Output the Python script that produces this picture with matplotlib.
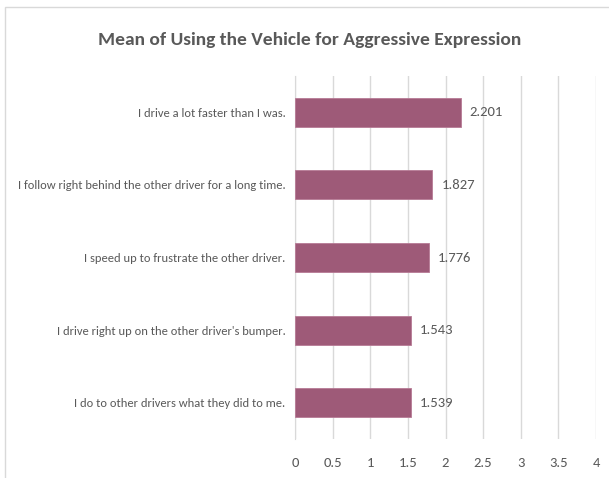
import matplotlib.pyplot as plt
from matplotlib.patches import Rectangle

items = [
    "I drive a lot faster than I was.",
    "I follow right behind the other driver for a long time.",
    "I speed up to frustrate the other driver.",
    "I drive right up on the other driver's bumper.",
    "I do to other drivers what they did to me.",
]
means = [2.201, 1.827, 1.776, 1.543, 1.539]
x_ticks = [0, 0.5, 1, 1.5, 2, 2.5, 3, 3.5, 4]
x_tick_labels = ["0", "0.5", "1", "1.5", "2", "2.5", "3", "3.5", "4"]

plt.rcParams["font.family"] = ["Carlito", "DejaVu Sans"]
text_grey = "#595959"
bar_colour = "#9E5A78"

fig = plt.figure(figsize=(6.09, 4.78), dpi=100)
# light frame around the chart area
fig.patches.append(Rectangle((5 / 609, -0.05), 1.1, 1 - 7 / 478 + 0.05,
                             transform=fig.transFigure, fill=False,
                             edgecolor="#D9D9D9", linewidth=1.0))

ax = fig.add_axes([295 / 609, 1 - 439 / 478, 301 / 609, 363 / 478])
pos = list(range(len(items)))
ax.barh(pos, means, height=0.4, color=bar_colour, edgecolor="#B77A95", linewidth=0.6, zorder=3)
for y, v in zip(pos, means):
    ax.text(v + 0.12, y, f"{v:.3f}", va="center", ha="left", fontsize=10.5, color=text_grey)

ax.set_xlim(0, 4)
ax.set_ylim(len(items) - 0.5, -0.5)
ax.set_xticks(x_ticks)
ax.set_xticklabels(x_tick_labels)
ax.set_yticks(pos)
ax.set_yticklabels(items)
ax.tick_params(axis="x", length=0, labelsize=10.5, colors=text_grey, pad=13)
ax.tick_params(axis="y", length=0, labelsize=9, colors=text_grey, pad=7)
ax.grid(axis="x", color="#D9D9D9", linewidth=1.0, zorder=0)
for side in ["top", "right", "bottom"]:
    ax.spines[side].set_visible(False)
ax.spines["left"].set_color("#D9D9D9")

fig.text(310 / 609, 1 - 40 / 478, "Mean of Using the Vehicle for Aggressive Expression",
         ha="center", va="center", fontsize=14, fontweight="bold", color=text_grey)

fig.savefig("out.png", dpi=100)
